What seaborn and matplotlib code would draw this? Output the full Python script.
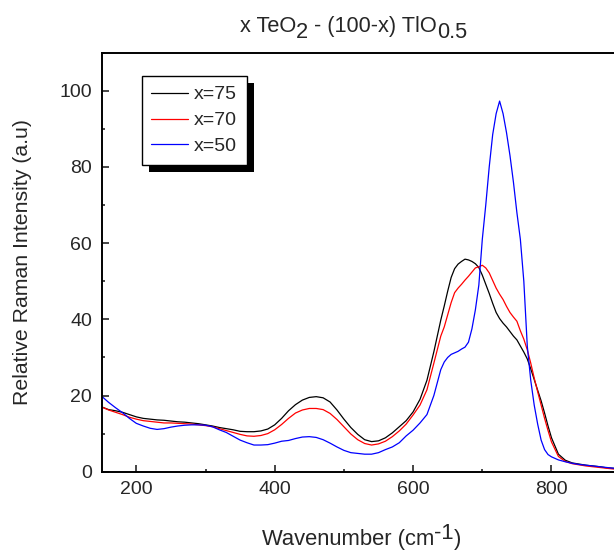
import numpy as np
import pandas as pd
import seaborn as sns
from matplotlib import pyplot as plt
from matplotlib import patheffects as pe
from matplotlib.ticker import MultipleLocator
from matplotlib.transforms import IdentityTransform

# wavenumber grid the values were read at (cm-1)
wavenumber = np.concatenate([np.arange(150, 640, 10), np.arange(640, 800, 5), np.arange(800, 901, 10)])

# x = 75
int_75 = [17.0, 16.3, 16.0, 15.6, 15.0, 14.4, 14.0, 13.8, 13.6, 13.5,
          13.3, 13.1, 13.0, 12.8, 12.6, 12.3, 12.0, 11.6, 11.3, 11.0,
          10.6, 10.5, 10.5, 10.7, 11.2, 12.3, 14.0, 16.0, 17.6, 18.8,
          19.5, 19.7, 19.4, 18.3, 16.2, 13.8, 11.6, 9.8, 8.4, 7.9,
          8.1, 8.9, 10.2, 11.8, 13.4, 15.7, 19.0, 24.0, 31.5,
          39.8, 43.5, 47.4, 51.0, 53.3, 54.5, 55.2, 55.8, 55.6, 55.2,
          54.6, 53.6, 51.6, 49.2, 46.8, 44.2, 41.8, 40.2, 39.0, 38.0,
          36.8, 35.6, 34.6, 33.0, 31.4, 29.6, 27.0, 24.2, 21.4, 18.6,
          15.4, 12.0,
          8.9, 4.6, 3.0, 2.3, 2.0, 1.7, 1.5, 1.3, 1.0, 0.9, 0.8]

# x = 70
int_70 = [17.0, 16.2, 15.6, 15.0, 14.3, 13.8, 13.4, 13.2, 13.0, 12.8,
          12.8, 12.7, 12.6, 12.5, 12.3, 12.1, 11.8, 11.3, 10.8, 10.3,
          9.8, 9.4, 9.3, 9.5, 10.0, 11.0, 12.4, 14.0, 15.4, 16.2,
          16.6, 16.6, 16.3, 15.3, 13.7, 11.8, 9.9, 8.4, 7.4, 7.0,
          7.3, 8.0, 9.2, 10.7, 12.5, 14.9, 17.5, 21.5, 28.5,
          35.6, 38.0, 41.2, 44.4, 47.0, 48.2, 49.2, 50.3, 51.3, 52.4,
          53.5, 53.8, 54.2, 53.5, 52.2, 50.2, 48.2, 46.6, 45.2, 43.4,
          41.8, 40.6, 39.5, 37.0, 34.8, 32.0, 28.5, 24.6, 21.0, 17.5,
          14.0, 10.8,
          7.8, 4.0, 2.7, 2.1, 1.8, 1.5, 1.3, 1.1, 0.9, 0.7, 0.6]

# x = 50
int_50 = [19.8, 18.2, 16.8, 15.5, 14.0, 12.7, 12.0, 11.4, 11.1, 11.3,
          11.7, 12.0, 12.2, 12.3, 12.3, 12.2, 11.8, 11.0, 10.3, 9.3,
          8.3, 7.6, 7.0, 7.0, 7.1, 7.5, 8.0, 8.2, 8.7, 9.1,
          9.2, 9.0, 8.4, 7.5, 6.5, 5.6, 5.0, 4.8, 4.6, 4.6,
          5.0, 5.8, 6.5, 7.6, 9.4, 10.9, 12.8, 15.0, 20.0,
          26.8, 28.8, 30.0, 30.8, 31.2, 31.6, 32.2, 32.7, 34.0, 37.5,
          42.5, 49.0, 61.0, 70.0, 80.0, 88.5, 94.0, 97.3, 94.0, 89.0,
          83.0, 76.0, 68.0, 61.0, 50.0, 33.0, 24.0, 17.5, 12.5, 8.3,
          5.8, 4.5,
          3.9, 3.1, 2.6, 2.2, 1.9, 1.7, 1.5, 1.3, 1.1, 0.9, 0.8]

labels = ['x=75', 'x=70', 'x=50']
colors = ['#000000', '#ff0000', '#0000ff']

df = pd.concat([
    pd.DataFrame({'wn': wavenumber, 'I': int_75, 'sample': labels[0]}),
    pd.DataFrame({'wn': wavenumber, 'I': int_70, 'sample': labels[1]}),
    pd.DataFrame({'wn': wavenumber, 'I': int_50, 'sample': labels[2]}),
])

sns.set_style('ticks')
plt.rcParams['font.family'] = ['Liberation Sans', 'DejaVu Sans']

fig = plt.figure(figsize=(6.14, 5.54), dpi=100)
ax = fig.add_axes([101.7 / 614, 1 - 471.7 / 554, 519 / 614, 419 / 554])

sns.lineplot(data=df, x='wn', y='I', hue='sample', palette=colors,
             estimator=None, sort=False, linewidth=0.9, ax=ax)

ax.set_xlim(150, 900)
ax.set_ylim(0, 110)
ax.xaxis.set_major_locator(MultipleLocator(200))
ax.xaxis.set_minor_locator(MultipleLocator(100))
ax.yaxis.set_major_locator(MultipleLocator(20))
ax.yaxis.set_minor_locator(MultipleLocator(10))
ax.tick_params(which='major', direction='in', length=5, width=1.2, labelsize=14, pad=7)
ax.tick_params(which='minor', direction='in', length=2.5, width=1.2)
for s in ['left', 'bottom', 'top']:
    ax.spines[s].set_linewidth(1.4)
    ax.spines[s].set_color('black')
ax.spines['right'].set_visible(False)

ax.set_xlabel('')
ax.set_ylabel('Relative Raman Intensity (a.u)', fontsize=15.3)
ax.yaxis.set_label_coords(-0.135, 0.5)

# title and x label with full size sub/superscripts, placed piece by piece (pixels)
renderer = fig.canvas.get_renderer()


def put_pieces(x, y, pieces, size):
    for txt, dy in pieces:
        t = fig.text(x, y + dy, txt, fontsize=size, va='baseline', ha='left',
                     transform=IdentityTransform())
        x += t.get_window_extent(renderer).width


put_pieces(240, 554 - 32, [('x TeO', 0), ('2', -6.5), (' - (100-x) TlO', 0), ('0.5', -6.5)], 15.7)
put_pieces(262, 554 - 545, [('Wavenumber (cm', 0), ('-1', 6), (')', 0)], 15.8)

leg = ax.legend(loc='upper left', bbox_to_anchor=(141.7 / 614, 1 - 76 / 554),
                bbox_transform=fig.transFigure, borderaxespad=0, fontsize=14,
                frameon=True, fancybox=False, handlelength=1.9, handletextpad=0.3,
                labelspacing=0.43, borderpad=0.5, title=None)
frame = leg.get_frame()
frame.set_edgecolor('black')
frame.set_linewidth(1.0)
frame.set_alpha(1)
frame.set_path_effects([pe.SimplePatchShadow(offset=(5, -5), shadow_rgbFace='black', alpha=1), pe.Normal()])

fig.savefig('out.png', dpi=100, facecolor='white')
